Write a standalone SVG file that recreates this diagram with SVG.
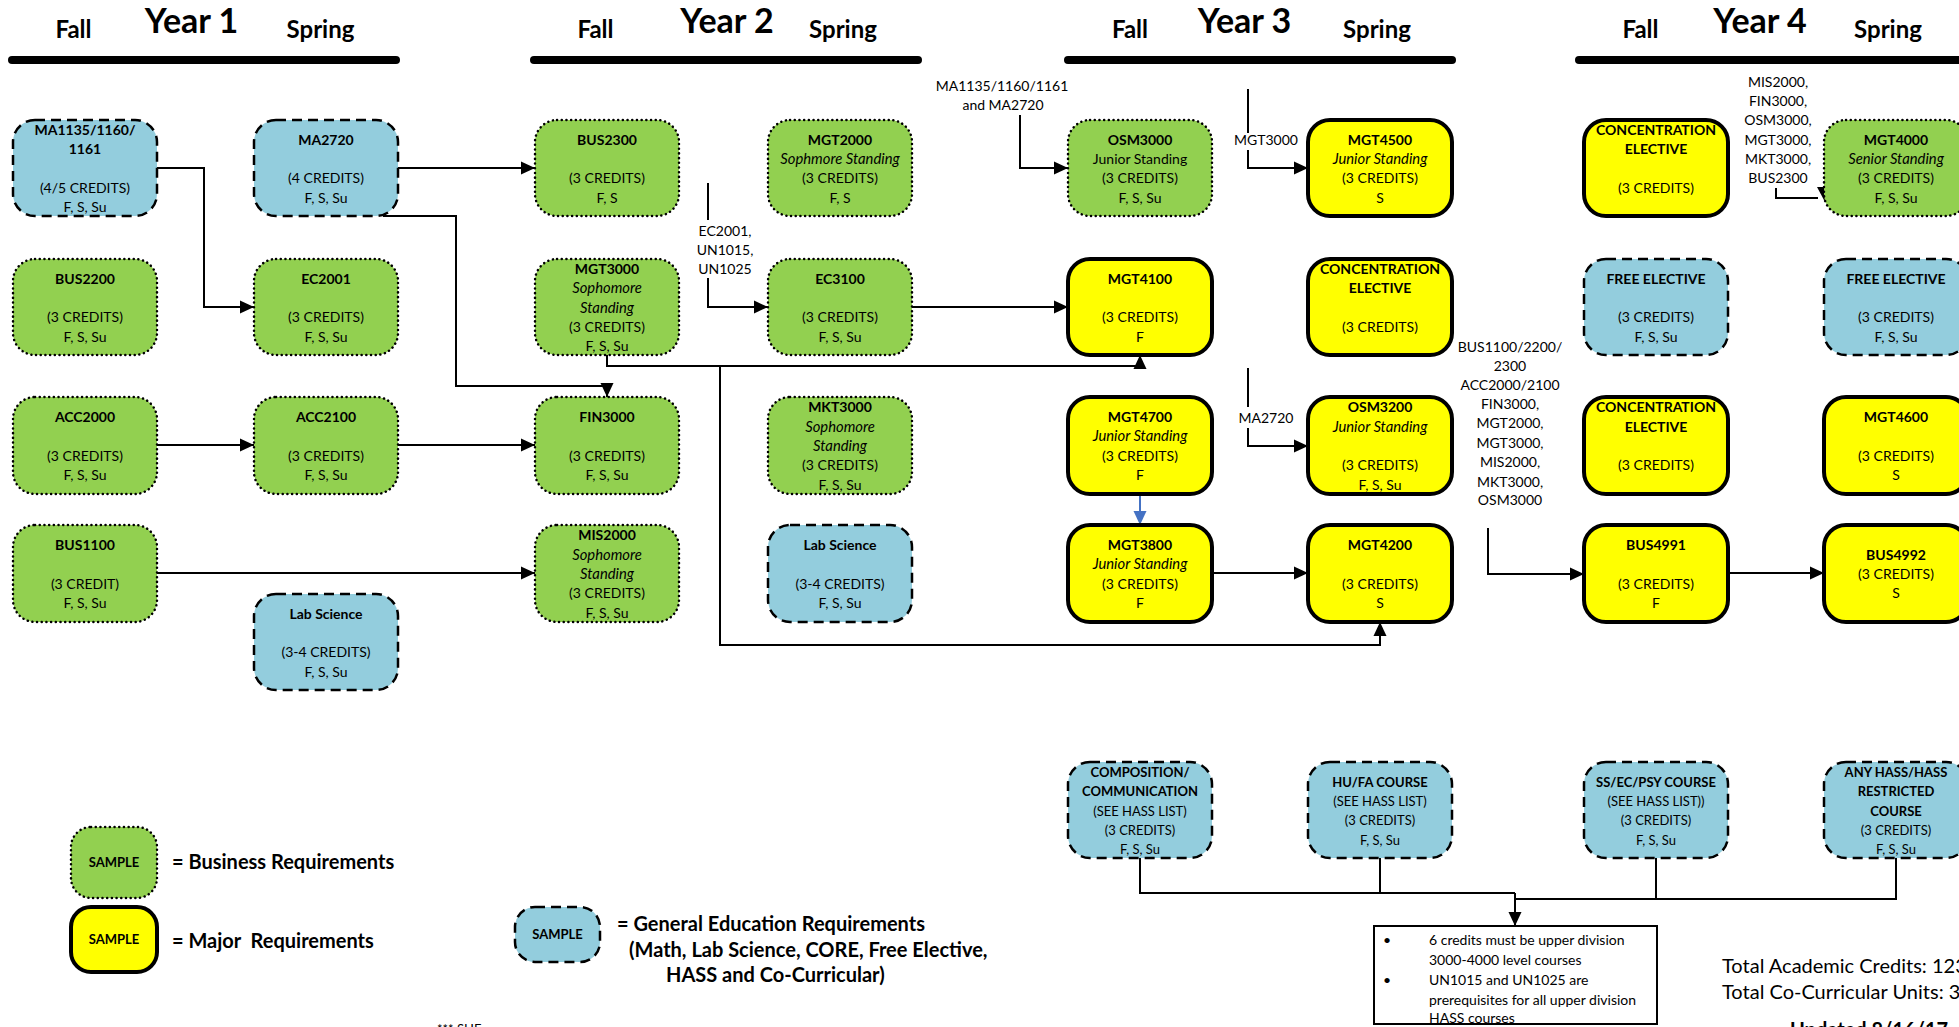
<svg xmlns="http://www.w3.org/2000/svg" width="1959" height="1027" viewBox="0 0 1959 1027">
<defs>
<style>
text{font-family:Lato,"Liberation Sans",sans-serif;fill:#000}
.n text{font-size:14px;text-anchor:middle}
.h text{font-size:13px;text-anchor:middle}
.B{font-weight:bold}
.n .I{font-style:italic;font-size:14.8px}
.g{fill:#92D050;stroke:#000;stroke-width:2.5;stroke-dasharray:0.1 4.6;stroke-linecap:round}
.b{fill:#93CDDD;stroke:#000;stroke-width:2.5;stroke-dasharray:10 6}
.y{fill:#FFFF00;stroke:#000;stroke-width:4}
.bar{stroke:#000;stroke-width:8;stroke-linecap:round}
.yr{font-size:34px;font-weight:bold;text-anchor:middle}
.sem{font-size:24px;font-weight:bold;text-anchor:middle}
.c{fill:none;stroke:#000;stroke-width:2}
.lbl{font-size:14px;text-anchor:middle}
.leg{font-size:20px;font-weight:bold}
.smp{font-size:13px;font-weight:bold;text-anchor:middle}
</style>
<marker id="ah" markerUnits="userSpaceOnUse" markerWidth="14" markerHeight="14" refX="14" refY="7" orient="auto"><path d="M0,0.5 L14,7 L0,13.5 z" fill="#000"/></marker>
<marker id="ahb" markerUnits="userSpaceOnUse" markerWidth="14" markerHeight="14" refX="14" refY="7" orient="auto"><path d="M0,0.5 L14,7 L0,13.5 z" fill="#4472C4"/></marker>
</defs>
<rect width="1959" height="1027" fill="#fff"/>

<g id="headers">
<line class="bar" x1="12" y1="60" x2="396" y2="60"/>
<line class="bar" x1="534" y1="60" x2="918" y2="60"/>
<line class="bar" x1="1068" y1="60" x2="1452" y2="60"/>
<line class="bar" x1="1579" y1="60" x2="1970" y2="60"/>
<text class="sem" x="73.5" y="38">Fall</text><text class="yr" x="191.5" y="33">Year 1</text><text class="sem" x="320.5" y="38">Spring</text>
<text class="sem" x="595.5" y="38">Fall</text><text class="yr" x="727" y="33">Year 2</text><text class="sem" x="843" y="38">Spring</text>
<text class="sem" x="1130" y="38">Fall</text><text class="yr" x="1244.5" y="33">Year 3</text><text class="sem" x="1377" y="38">Spring</text>
<text class="sem" x="1640.5" y="38">Fall</text><text class="yr" x="1760" y="33">Year 4</text><text class="sem" x="1888" y="38">Spring</text>
</g>

<g id="connectors">
<path class="c" d="M157,168 H204 V307 H254" marker-end="url(#ah)"/>
<path class="c" d="M398,168 H535" marker-end="url(#ah)"/>
<path class="c" d="M383,216 H456 V386 H607 V397" marker-end="url(#ah)"/>
<path class="c" d="M157,445 H254" marker-end="url(#ah)"/>
<path class="c" d="M398,445 H535" marker-end="url(#ah)"/>
<path class="c" d="M157,573 H535" marker-end="url(#ah)"/>
<path class="c" d="M708,183 V220"/>
<path class="c" d="M708,278 V307 H768" marker-end="url(#ah)"/>
<path class="c" d="M912,307 H1068" marker-end="url(#ah)"/>
<path class="c" d="M607,355 V366 H1140 V355" marker-end="url(#ah)"/>
<path class="c" d="M720,366 V645 H1380 V622" marker-end="url(#ah)"/>
<path class="c" d="M1020,115 V168 H1068" marker-end="url(#ah)"/>
<path class="c" d="M1248,89 V133"/>
<path class="c" d="M1248,150 V168 H1308" marker-end="url(#ah)"/>
<path class="c" d="M1248,368 V407"/>
<path class="c" d="M1248,428 V446 H1308" marker-end="url(#ah)"/>
<path class="c" d="M1140,495 V525" style="stroke:#4472C4" marker-end="url(#ahb)"/>
<path class="c" d="M1212,573 H1308" marker-end="url(#ah)"/>
<path class="c" d="M1488,528 V574 H1584" marker-end="url(#ah)"/>
<path class="c" d="M1728,573 H1824" marker-end="url(#ah)"/>
<path class="c" d="M1776,188 V198 H1818"/>
<polygon points="1817,187 1832,187 1824.5,201" fill="#000"/>
<path class="c" d="M1140,858 V893 H1515"/>
<path class="c" d="M1380,858 V893"/>
<path class="c" d="M1515,899 H1896 V858"/>
<path class="c" d="M1656,858 V899"/>
<path class="c" d="M1515,893 V926" marker-end="url(#ah)"/>
<text class="lbl" x="725" y="236">EC2001,</text>
<text class="lbl" x="725" y="255">UN1015,</text>
<text class="lbl" x="725" y="274">UN1025</text>
<text class="lbl" x="1002" y="91">MA1135/1160/1161</text>
<text class="lbl" x="1003" y="110">and MA2720</text>
<text class="lbl" x="1266" y="145">MGT3000</text>
<text class="lbl" x="1266" y="423">MA2720</text>
<text class="lbl" x="1510" y="352">BUS1100/2200/</text>
<text class="lbl" x="1510" y="371">2300</text>
<text class="lbl" x="1510" y="390">ACC2000/2100</text>
<text class="lbl" x="1510" y="409">FIN3000,</text>
<text class="lbl" x="1510" y="428">MGT2000,</text>
<text class="lbl" x="1510" y="448">MGT3000,</text>
<text class="lbl" x="1510" y="467">MIS2000,</text>
<text class="lbl" x="1510" y="487">MKT3000,</text>
<text class="lbl" x="1510" y="505">OSM3000</text>
<text class="lbl" x="1778" y="87">MIS2000,</text>
<text class="lbl" x="1778" y="106">FIN3000,</text>
<text class="lbl" x="1778" y="125">OSM3000,</text>
<text class="lbl" x="1778" y="145">MGT3000,</text>
<text class="lbl" x="1778" y="164">MKT3000,</text>
<text class="lbl" x="1778" y="183">BUS2300</text>
</g>

<!-- Column 1 -->
<g id="ma1135" class="n"><rect class="b" x="13" y="120" width="144" height="96" rx="22"/>
<text class="B" x="85" y="135">MA1135/1160/</text><text class="B" x="85" y="154">1161</text><text x="85" y="193">(4/5 CREDITS)</text><text x="85" y="212">F, S, Su</text></g>
<g id="bus2200" class="n"><rect class="g" x="13" y="259" width="144" height="96" rx="22"/>
<text class="B" x="85" y="283.6">BUS2200</text><text x="85" y="322.2">(3 CREDITS)</text><text x="85" y="341.5">F, S, Su</text></g>
<g id="acc2000" class="n"><rect class="g" x="13" y="397" width="144" height="97" rx="22"/>
<text class="B" x="85" y="422">ACC2000</text><text x="85" y="460.7">(3 CREDITS)</text><text x="85" y="480">F, S, Su</text></g>
<g id="bus1100" class="n"><rect class="g" x="13" y="525" width="144" height="97" rx="22"/>
<text class="B" x="85" y="550">BUS1100</text><text x="85" y="588.7">(3 CREDIT)</text><text x="85" y="608">F, S, Su</text></g>

<!-- Column 2 -->
<g id="ma2720" class="n"><rect class="b" x="254" y="120" width="144" height="96" rx="22"/>
<text class="B" x="326" y="144.5">MA2720</text><text x="326" y="183.2">(4 CREDITS)</text><text x="326" y="202.5">F, S, Su</text></g>
<g id="ec2001" class="n"><rect class="g" x="254" y="259" width="144" height="96" rx="22"/>
<text class="B" x="326" y="283.6">EC2001</text><text x="326" y="322.2">(3 CREDITS)</text><text x="326" y="341.5">F, S, Su</text></g>
<g id="acc2100" class="n"><rect class="g" x="254" y="397" width="144" height="97" rx="22"/>
<text class="B" x="326" y="422">ACC2100</text><text x="326" y="460.7">(3 CREDITS)</text><text x="326" y="480">F, S, Su</text></g>
<g id="labsci1" class="n"><rect class="b" x="254" y="594" width="144" height="96" rx="22"/>
<text class="B" x="326" y="618.6">Lab Science</text><text x="326" y="657.2">(3-4 CREDITS)</text><text x="326" y="676.5">F, S, Su</text></g>

<!-- Column 3 -->
<g id="bus2300" class="n"><rect class="g" x="535" y="120" width="144" height="96" rx="22"/>
<text class="B" x="607" y="144.5">BUS2300</text><text x="607" y="183.2">(3 CREDITS)</text><text x="607" y="202.5">F, S</text></g>
<g id="mgt3000" class="n"><rect class="g" x="535" y="259" width="144" height="96" rx="22"/>
<text class="B" x="607" y="273.9">MGT3000</text><text class="I" x="607" y="293.2">Sophomore</text><text class="I" x="607" y="312.5">Standing</text><text x="607" y="331.8">(3 CREDITS)</text><text x="607" y="351.1">F, S, Su</text></g>
<g id="fin3000" class="n"><rect class="g" x="535" y="397" width="144" height="97" rx="22"/>
<text class="B" x="607" y="422">FIN3000</text><text x="607" y="460.7">(3 CREDITS)</text><text x="607" y="480">F, S, Su</text></g>
<g id="mis2000" class="n"><rect class="g" x="535" y="525" width="144" height="97" rx="22"/>
<text class="B" x="607" y="540.4">MIS2000</text><text class="I" x="607" y="559.7">Sophomore</text><text class="I" x="607" y="579">Standing</text><text x="607" y="598.3">(3 CREDITS)</text><text x="607" y="617.6">F, S, Su</text></g>

<!-- Column 4 -->
<g id="mgt2000" class="n"><rect class="g" x="768" y="120" width="144" height="96" rx="22"/>
<text class="B" x="840" y="144.5">MGT2000</text><text class="I" x="840" y="163.9">Sophmore Standing</text><text x="840" y="183.2">(3 CREDITS)</text><text x="840" y="202.5">F, S</text></g>
<g id="ec3100" class="n"><rect class="g" x="768" y="259" width="144" height="96" rx="22"/>
<text class="B" x="840" y="283.6">EC3100</text><text x="840" y="322.2">(3 CREDITS)</text><text x="840" y="341.5">F, S, Su</text></g>
<g id="mkt3000" class="n"><rect class="g" x="768" y="397" width="144" height="97" rx="22"/>
<text class="B" x="840" y="412.4">MKT3000</text><text class="I" x="840" y="431.7">Sophomore</text><text class="I" x="840" y="451">Standing</text><text x="840" y="470.3">(3 CREDITS)</text><text x="840" y="489.6">F, S, Su</text></g>
<g id="labsci2" class="n"><rect class="b" x="768" y="525" width="144" height="97" rx="22"/>
<text class="B" x="840" y="550">Lab Science</text><text x="840" y="588.7">(3-4 CREDITS)</text><text x="840" y="608">F, S, Su</text></g>

<!-- Column 5 -->
<g id="osm3000" class="n"><rect class="g" x="1068" y="120" width="144" height="96" rx="22"/>
<text class="B" x="1140" y="144.5">OSM3000</text><text x="1140" y="163.9">Junior Standing</text><text x="1140" y="183.2">(3 CREDITS)</text><text x="1140" y="202.5">F, S, Su</text></g>
<g id="mgt4100" class="n"><rect class="y" x="1068" y="259" width="144" height="96" rx="22"/>
<text class="B" x="1140" y="283.6">MGT4100</text><text x="1140" y="322.2">(3 CREDITS)</text><text x="1140" y="341.5">F</text></g>
<g id="mgt4700" class="n"><rect class="y" x="1068" y="397" width="144" height="97" rx="22"/>
<text class="B" x="1140" y="422">MGT4700</text><text class="I" x="1140" y="441.4">Junior Standing</text><text x="1140" y="460.7">(3 CREDITS)</text><text x="1140" y="480">F</text></g>
<g id="mgt3800" class="n"><rect class="y" x="1068" y="525" width="144" height="97" rx="22"/>
<text class="B" x="1140" y="550">MGT3800</text><text class="I" x="1140" y="569.4">Junior Standing</text><text x="1140" y="588.7">(3 CREDITS)</text><text x="1140" y="608">F</text></g>

<!-- Column 6 -->
<g id="mgt4500" class="n"><rect class="y" x="1308" y="120" width="144" height="96" rx="22"/>
<text class="B" x="1380" y="144.5">MGT4500</text><text class="I" x="1380" y="163.9">Junior Standing</text><text x="1380" y="183.2">(3 CREDITS)</text><text x="1380" y="202.5">S</text></g>
<g id="conc3" class="n"><rect class="y" x="1308" y="259" width="144" height="96" rx="22"/>
<text class="B" x="1380" y="273.9">CONCENTRATION</text><text class="B" x="1380" y="293.2">ELECTIVE</text><text x="1380" y="331.8">(3 CREDITS)</text></g>
<g id="osm3200" class="n"><rect class="y" x="1308" y="397" width="144" height="97" rx="22"/>
<text class="B" x="1380" y="412.4">OSM3200</text><text class="I" x="1380" y="431.7">Junior Standing</text><text x="1380" y="470.3">(3 CREDITS)</text><text x="1380" y="489.6">F, S, Su</text></g>
<g id="mgt4200" class="n"><rect class="y" x="1308" y="525" width="144" height="97" rx="22"/>
<text class="B" x="1380" y="550">MGT4200</text><text x="1380" y="588.7">(3 CREDITS)</text><text x="1380" y="608">S</text></g>

<!-- Column 7 -->
<g id="conc4a" class="n"><rect class="y" x="1584" y="120" width="144" height="96" rx="22"/>
<text class="B" x="1656" y="134.9">CONCENTRATION</text><text class="B" x="1656" y="154.2">ELECTIVE</text><text x="1656" y="192.8">(3 CREDITS)</text></g>
<g id="free1" class="n"><rect class="b" x="1584" y="259" width="144" height="96" rx="22"/>
<text class="B" x="1656" y="283.6">FREE ELECTIVE</text><text x="1656" y="322.2">(3 CREDITS)</text><text x="1656" y="341.5">F, S, Su</text></g>
<g id="conc4b" class="n"><rect class="y" x="1584" y="397" width="144" height="97" rx="22"/>
<text class="B" x="1656" y="412.4">CONCENTRATION</text><text class="B" x="1656" y="431.7">ELECTIVE</text><text x="1656" y="470.3">(3 CREDITS)</text></g>
<g id="bus4991" class="n"><rect class="y" x="1584" y="525" width="144" height="97" rx="22"/>
<text class="B" x="1656" y="550">BUS4991</text><text x="1656" y="588.7">(3 CREDITS)</text><text x="1656" y="608">F</text></g>

<!-- Column 8 -->
<g id="mgt4000" class="n"><rect class="g" x="1824" y="120" width="144" height="96" rx="22"/>
<text class="B" x="1896" y="144.5">MGT4000</text><text class="I" x="1896" y="163.9">Senior Standing</text><text x="1896" y="183.2">(3 CREDITS)</text><text x="1896" y="202.5">F, S, Su</text></g>
<g id="free2" class="n"><rect class="b" x="1824" y="259" width="144" height="96" rx="22"/>
<text class="B" x="1896" y="283.6">FREE ELECTIVE</text><text x="1896" y="322.2">(3 CREDITS)</text><text x="1896" y="341.5">F, S, Su</text></g>
<g id="mgt4600" class="n"><rect class="y" x="1824" y="397" width="144" height="97" rx="22"/>
<text class="B" x="1896" y="422">MGT4600</text><text x="1896" y="460.7">(3 CREDITS)</text><text x="1896" y="480">S</text></g>
<g id="bus4992" class="n"><rect class="y" x="1824" y="525" width="144" height="97" rx="22"/>
<text class="B" x="1896" y="559.7">BUS4992</text><text x="1896" y="579">(3 CREDITS)</text><text x="1896" y="598.3">S</text></g>

<!-- HASS row -->
<g id="comp" class="h"><rect class="b" x="1068" y="762" width="144" height="96" rx="22"/>
<text class="B" x="1140" y="776.9">COMPOSITION/</text><text class="B" x="1140" y="796.2">COMMUNICATION</text><text x="1140" y="815.5">(SEE HASS LIST)</text><text x="1140" y="834.8">(3 CREDITS)</text><text x="1140" y="854.1">F, S, Su</text></g>
<g id="hufa" class="h"><rect class="b" x="1308" y="762" width="144" height="96" rx="22"/>
<text class="B" x="1380" y="786.6">HU/FA COURSE</text><text x="1380" y="805.9">(SEE HASS LIST)</text><text x="1380" y="825.2">(3 CREDITS)</text><text x="1380" y="844.5">F, S, Su</text></g>
<g id="ssec" class="h"><rect class="b" x="1584" y="762" width="144" height="96" rx="22"/>
<text class="B" x="1656" y="786.6">SS/EC/PSY COURSE</text><text x="1656" y="805.9">(SEE HASS LIST))</text><text x="1656" y="825.2">(3 CREDITS)</text><text x="1656" y="844.5">F, S, Su</text></g>
<g id="anyhass" class="h"><rect class="b" x="1824" y="762" width="144" height="96" rx="22"/>
<text class="B" x="1896" y="776.9">ANY HASS/HASS</text><text class="B" x="1896" y="796.2">RESTRICTED</text><text class="B" x="1896" y="815.5">COURSE</text><text x="1896" y="834.8">(3 CREDITS)</text><text x="1896" y="854.1">F, S, Su</text></g>

<!-- Note box -->
<g id="note">
<rect x="1374" y="926" width="283" height="98" fill="#fff" stroke="#000" stroke-width="2"/>
<g font-size="14">
<text x="1383" y="945">•</text><text x="1429" y="945">6 credits must be upper division</text>
<text x="1429" y="965">3000-4000 level courses</text>
<text x="1383" y="985">•</text><text x="1429" y="985">UN1015 and UN1025 are</text>
<text x="1429" y="1005">prerequisites for all upper division</text>
<text x="1429" y="1023">HASS courses</text>
</g>
</g>

<!-- Legend -->
<g id="legend">
<rect class="g" x="71" y="827" width="86" height="71" rx="20"/>
<text class="smp" x="114" y="867">SAMPLE</text>
<text class="leg" x="172" y="869">= Business Requirements</text>
<rect class="y" x="71" y="907" width="86" height="65" rx="20"/>
<text class="smp" x="114" y="944">SAMPLE</text>
<text class="leg" x="172" y="948" xml:space="preserve">= Major  Requirements</text>
<rect class="b" x="515" y="907" width="85" height="55" rx="20"/>
<text class="smp" x="557.5" y="939">SAMPLE</text>
<text class="leg" x="617" y="931">= General Education Requirements</text>
<text class="leg" x="629" y="957">(Math, Lab Science, CORE, Free Elective,</text>
<text class="leg" x="666" y="982">HASS and Co-Curricular)</text>
</g>

<g id="footer">
<text x="1722" y="973" font-size="20">Total Academic Credits: 123</text>
<text x="1722" y="999" font-size="20">Total Co-Curricular Units: 3</text>
<text x="1790" y="1037" font-size="20" font-weight="bold">Updated 8/16/17</text>
<text x="437" y="1034" font-size="13">*** SHE</text>
</g>
</svg>
